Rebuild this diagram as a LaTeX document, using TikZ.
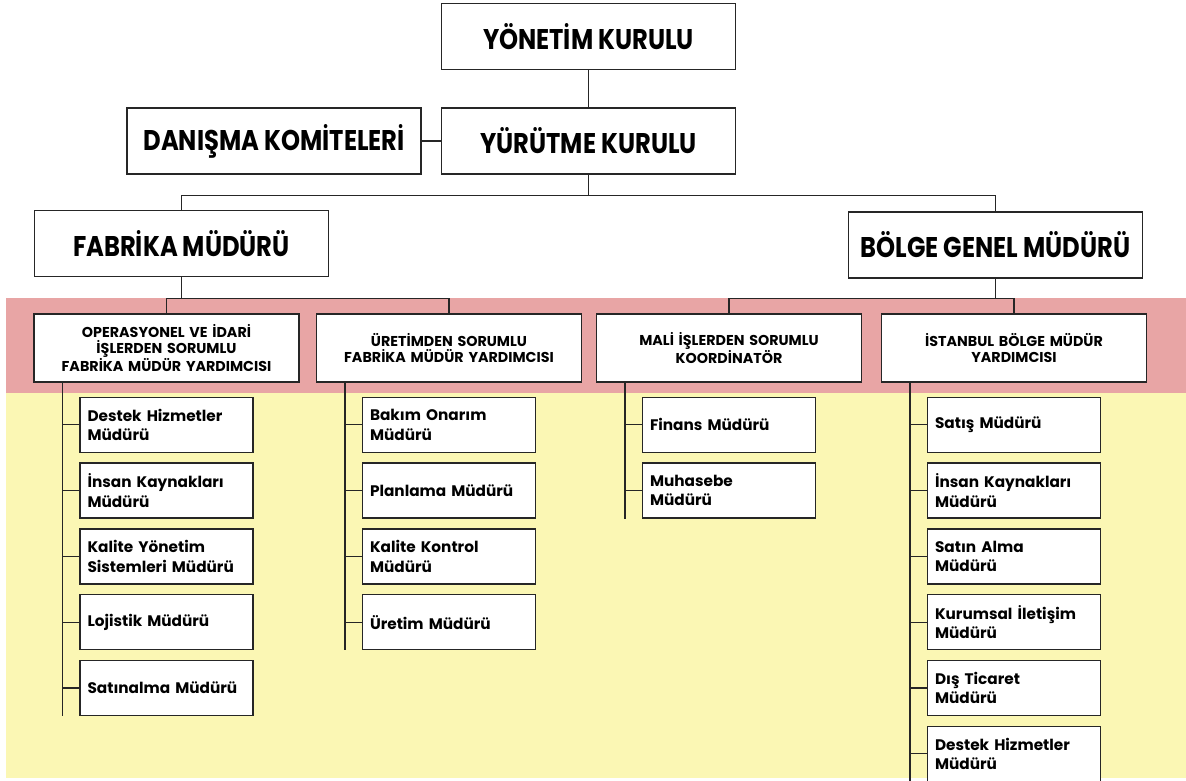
\documentclass[tikz,border=0pt]{standalone}
\usepackage{fontspec}
\setmainfont{Poppins}
\newfontfamily\headfont[FakeStretch=0.85]{Poppins}
\usetikzlibrary{positioning,calc}
\definecolor{bandpink}{RGB}{232,165,165}
\definecolor{bandyellow}{RGB}{251,247,180}
\tikzset{
    boxline/.style={draw=black!85, line width=1.4pt, fill=white},
    topbox/.style={boxline, minimum width=294pt, minimum height=66pt,
        font=\headfont\bfseries\fontsize{28.5}{32}\selectfont},
    bandbox/.style={boxline, text width=245pt, inner xsep=10pt, minimum height=68pt,
        align=center, font=\bfseries\fontsize{14.3}{16.5}\selectfont},
    subbox/.style={boxline, text width=158pt, inner xsep=7.5pt, minimum height=55pt,
        align=left, font=\bfseries\fontsize{15.3}{19.5}\selectfont},
    conn/.style={draw=black!85, line width=1.2pt},
}

\begin{document}
\begin{tikzpicture}[x=1pt, y=-1pt]
    \useasboundingbox (0,0) rectangle (1186,780);
    \clip (0,0) rectangle (1186,780);
    % colour bands
    \fill[bandpink] (6,298) rectangle (1186,393);
    \fill[bandyellow] (6,393) rectangle (1186,778);

    % upper levels
    \node[topbox] (yk) at (588.5,36.5) {YÖNETİM KURULU};
    \node[topbox] (yr) at (588.5,141) {YÜRÜTME KURULU};
    \node[topbox, left=19pt of yr] (dk) {DANIŞMA KOMİTELERİ};
    \node[topbox] (fm) at (181.5,243.5) {FABRİKA MÜDÜRÜ};
    \node[topbox] (bg) at (995.5,245) {BÖLGE GENEL MÜDÜRÜ};

    \node[bandbox] (op) at (166.5,348) {OPERASYONEL VE İDARİ\\İŞLERDEN SORUMLU\\FABRİKA MÜDÜR YARDIMCISI};
    \node[bandbox] (ur) at (449,348) {ÜRETİMDEN SORUMLU\\FABRİKA MÜDÜR YARDIMCISI};
    \node[bandbox] (ml) at (729,348) {MALİ İŞLERDEN SORUMLU\\KOORDİNATÖR};
    \node[bandbox] (ib) at (1014,348) {İSTANBUL BÖLGE MÜDÜR\\YARDIMCISI};

    \draw[conn] (yk) -- (yr);
    \draw[conn] (dk) -- (yr);
    \draw[conn] (yr.south) -- ++(0,21) coordinate (yb);
    \draw[conn] (fm.north) |- (yb) -| (bg.north);
    \draw[conn] (fm.south) -- ++(0,21) coordinate (fb);
    \draw[conn] (op.north) |- (fb) -| (ur.north);
    \draw[conn] (bg.south) -- ++(0,20) coordinate (bb);
    \draw[conn] (ml.north) |- (bb) -| (ib.north);

    % lower levels
    \foreach \lcol/\litems in {op/{{Destek Hizmetler\\Müdürü},{İnsan Kaynakları\\Müdürü},{Kalite Yönetim\\Sistemleri Müdürü},{Lojistik Müdürü},{Satınalma Müdürü}},
            ur/{{Bakım Onarım\\Müdürü},{Planlama Müdürü},{Kalite Kontrol\\Müdürü},{Üretim Müdürü}},
            ml/{{Finans Müdürü},{Muhasebe\\Müdürü}},
            ib/{{Satış Müdürü},{İnsan Kaynakları\\Müdürü},{Satın Alma\\Müdürü},{Kurumsal İletişim\\Müdürü},{Dış Ticaret\\Müdürü},{Destek Hizmetler\\Müdürü}}} {
        \coordinate (b-\lcol) at ([xshift=-104pt]\lcol.south);
        \foreach[count=\j] \lj in \litems {
            \node[subbox] (s-\j-\lcol) at ($(\lcol.south)+(0,{42+65.8*(\j-1)})$) {\lj};
            \draw[conn] (b-\lcol) -- (b-\lcol |- s-\j-\lcol.south);
            \draw[conn] (s-\j-\lcol.west) -- (s-\j-\lcol.west -| b-\lcol);
        }
    }
\end{tikzpicture}
\end{document}
